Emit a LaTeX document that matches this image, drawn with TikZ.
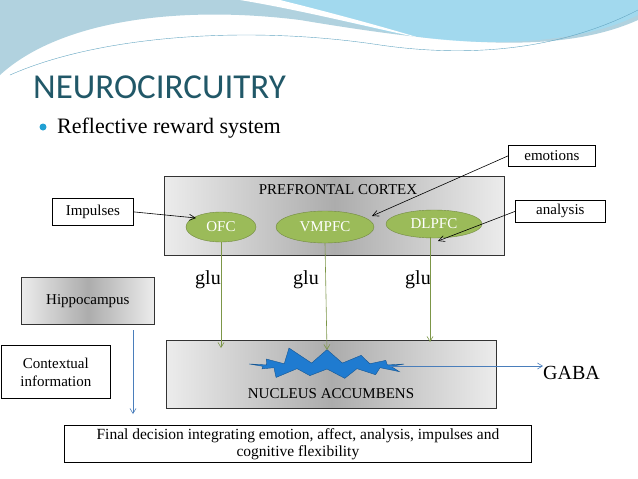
\documentclass[tikz,border=0pt]{standalone}
\usepackage{fontspec}
\setmainfont{Liberation Serif}
\newfontfamily\titlefont{Carlito}
\usetikzlibrary{shapes.geometric,shapes.symbols,arrows.meta}
\definecolor{teal1}{HTML}{215868}
\definecolor{ovgreen}{HTML}{9BBB59}
\definecolor{ovdark}{HTML}{71893F}
\definecolor{starblue}{HTML}{1F7BD0}
\definecolor{lineblue}{HTML}{4A7EBB}
\tikzset{
  shadebox/.style={draw=black!80,line width=0.8pt,left color=gray!15,right color=gray!15,middle color=gray!65},
  plainbox/.style={draw=black,line width=0.8pt,fill=white,font=\fontsize{15}{18}\selectfont,align=center},
  ov/.style={ellipse,draw=ovdark,fill=ovgreen,text=white,font=\fontsize{15}{17}\selectfont,inner sep=0pt},
  garrow/.style={draw=ovgreen!80!black,-{Straight Barb[length=5pt,width=6pt]},line width=0.6pt},
  karrow/.style={draw=black,-{Straight Barb[length=6pt,width=6pt]},line width=0.6pt},
  barrow/.style={draw=lineblue,-{Straight Barb[length=5pt,width=6pt]},line width=0.6pt},
  lab/.style={font=\fontsize{20}{22}\selectfont}
}
\begin{document}
\begin{tikzpicture}[x=1pt,y=-1pt]
\useasboundingbox (0,0) rectangle (638,479);
\fill[white] (0,0) rectangle (638,479);
% banner
\fill[cyan!25!teal!35!white] (0,0) -- (638,0) -- (638,20) .. controls (560,55) and (450,45) .. (300,20) .. controls (180,5) and (60,20) .. (0,75) -- cycle;
\fill[cyan!40!white,opacity=0.6] (250,0) -- (638,0) -- (638,15) .. controls (580,45) and (470,50) .. (380,30) .. controls (320,15) and (280,5) .. (250,0) -- cycle;
\fill[white] (240,0) .. controls (300,10) and (360,25) .. (420,38) .. controls (360,20) and (300,5) .. (280,0) -- cycle;
\draw[cyan!50!gray,line width=0.4pt] (10,75) .. controls (100,35) and (250,25) .. (380,45) .. controls (470,58) and (560,50) .. (638,10);
% title
\node[anchor=base west,text=teal1,font=\titlefont\fontsize{35}{38}\selectfont,inner sep=0pt] (title) at (33,98) {NEUROCIRCUITRY};
\fill[cyan!70!teal] (43,127) circle (3.5);
\node[anchor=base west,font=\fontsize{22}{25}\selectfont,inner sep=0pt] (sub) at (57,133) {Reflective reward system};
% prefrontal
\node[shadebox,minimum width=340pt,minimum height=79pt,anchor=north west,inner sep=0pt] (pfc) at (164,176) {};
\node[font=\fontsize{15}{17}\selectfont] (pfct) at (338,190) {PREFRONTAL CORTEX};
\node[ov,minimum width=70pt,minimum height=30pt] (ofc) at (221,227) {OFC};
\node[ov,minimum width=98pt,minimum height=32pt] (vmpfc) at (325,227) {VMPFC};
\node[ov,minimum width=96pt,minimum height=28pt] (dlpfc) at (434,224) {DLPFC};
% side boxes
\node[plainbox,minimum width=81pt,minimum height=27pt,anchor=north west,inner sep=0pt] (imp) at (52,198) {Impulses};
\node[plainbox,minimum width=87pt,minimum height=21pt,anchor=north west,inner sep=0pt] (emo) at (508,145) {emotions};
\node[plainbox,minimum width=90pt,minimum height=22pt,anchor=north west,inner sep=0pt] (ana) at (515,200) {analysis};
\draw[karrow] (imp.east) -- (196,218);
\draw[karrow] (emo.west) -- (372,216);
\draw[karrow] (ana.west) -- (438,241);
% glu
\node[lab] (g1) at (208,280) {glu};
\node[lab] (g2) at (306,280) {glu};
\node[lab] (g3) at (418,280) {glu};
% nucleus
\node[shadebox,minimum width=330pt,minimum height=68pt,anchor=north west,inner sep=0pt] (nac) at (166,340) {};
\node[starburst,starburst points=13,starburst point height=18pt,fill=starblue,draw=starblue!70!black,minimum width=165pt,minimum height=42pt,inner sep=0pt,random starburst=11] (star) at (327,366) {};
\node[font=\fontsize{15}{17}\selectfont] (nact) at (331,394) {NUCLEUS ACCUMBENS};
\coordinate (n1) at (221,348);
\coordinate (n2) at (327,350);
\coordinate (n3) at (430,342);
\draw[garrow] (ofc.south) -- (n1);
\draw[garrow] (vmpfc.south) -- (n2);
\draw[garrow] (430,237) -- (n3);
\node[lab,anchor=base west,inner sep=0pt] (gaba) at (543,379) {GABA};
\draw[barrow] (390,366) -- (gaba.west |- 0,366);
% hippocampus
\node[shadebox,minimum width=133pt,minimum height=47pt,anchor=north west,inner sep=0pt,font=\fontsize{15}{17}\selectfont] (hip) at (21,277) {Hippocampus};
\node[plainbox,minimum width=109pt,minimum height=53pt,anchor=north west,inner sep=0pt] (ctx) at (1,345) {Contextual\\information};
\node[plainbox,minimum width=467pt,minimum height=37pt,anchor=north west,inner sep=0pt,font=\fontsize{15.5}{17}\selectfont] (fin) at (64,425) {Final decision integrating emotion, affect, analysis, impulses and\\cognitive flexibility};
\coordinate (h1) at (133,330);
\draw[barrow] (h1) -- (133,414);
\end{tikzpicture}
\end{document}
